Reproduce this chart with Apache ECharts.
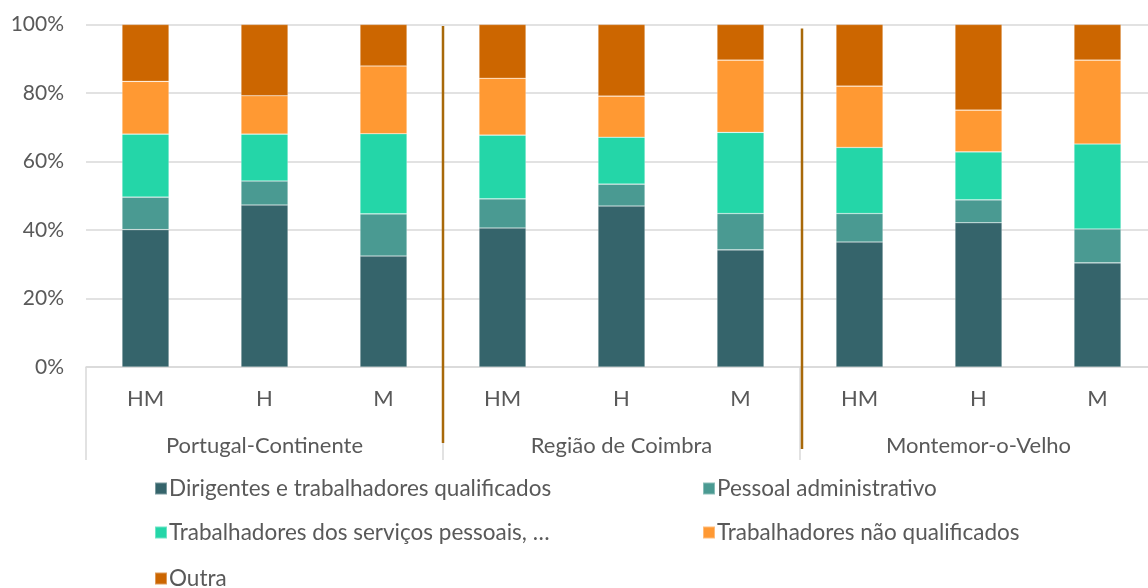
<!DOCTYPE html>
<html>
<head>
<meta charset="utf-8">
<script src="https://cdn.jsdelivr.net/npm/echarts@6/dist/echarts.min.js"></script>
<style>
  html, body { margin: 0; padding: 0; background: #fff; }
  #chart { width: 1148px; height: 588px; }
</style>
</head>
<body>
<div id="chart"></div>
<script>
// Occupational structure by sex (HM = total, H = men, M = women), shares in %
const sexCategories = ['HM', 'H', 'M', 'HM', 'H', 'M', 'HM', 'H', 'M'];
const regions = ['Portugal-Continente', 'Região de Coimbra', 'Montemor-o-Velho'];
const yTicks = [0, 20, 40, 60, 80, 100];

const dirigentes = [40.1, 47.3, 32.4, 40.6, 47.0, 34.2, 36.5, 42.1, 30.4];
const pessoalAdministrativo = [9.5, 7.0, 12.3, 8.5, 6.4, 10.6, 8.3, 6.7, 9.9];
const servicosPessoais = [18.4, 13.7, 23.4, 18.6, 13.7, 23.7, 19.3, 14.0, 24.8];
const naoQualificados = [15.4, 11.2, 19.8, 16.6, 12.0, 21.1, 17.9, 12.2, 24.5];
const outra = [16.6, 20.8, 12.1, 15.7, 20.9, 10.4, 18.0, 25.0, 10.4];

const seriesNames = [
  'Dirigentes e trabalhadores qualificados',
  'Pessoal administrativo',
  'Trabalhadores dos serviços pessoais, …',
  'Trabalhadores não qualificados',
  'Outra'
];
const seriesData = [dirigentes, pessoalAdministrativo, servicosPessoais, naoQualificados, outra];
const colors = ['#35646B', '#4A9A92', '#24D6A8', '#FF9933', '#CC6600'];

const FONT = 'Lato, "Open Sans", sans-serif';
const TEXT = '#595959';
const GRID_LINE = '#D9D9D9';

// Legend laid out in two columns; one legend block per entry
const legendSlots = [
  { left: 149, top: 472 },
  { left: 697, top: 472 },
  { left: 149, top: 516 },
  { left: 697, top: 516 },
  { left: 149, top: 562 }
];

const chart = echarts.init(document.getElementById('chart'), null, { renderer: 'canvas' });

const option = {
  animation: false,
  textStyle: { fontFamily: FONT },
  grid: { left: 86, top: 24.5, right: -9, bottom: 221, containLabel: false, outerBoundsMode: 'none' },
  xAxis: [
    {
      type: 'category',
      data: sexCategories,
      position: 'bottom',
      axisLine: { lineStyle: { color: GRID_LINE, width: 1.5 } },
      axisTick: { show: false },
      axisLabel: { color: TEXT, fontSize: 22, fontFamily: FONT, margin: 21 }
    },
    {
      type: 'category',
      data: regions,
      position: 'bottom',
      axisLine: { show: false },
      axisTick: { show: true, length: 93, lineStyle: { color: GRID_LINE, width: 1.5 } },
      axisLabel: { color: TEXT, fontSize: 22, fontFamily: FONT, margin: 68 }
    }
  ],
  yAxis: {
    type: 'value',
    min: yTicks[0],
    max: yTicks[yTicks.length - 1],
    interval: 20,
    axisLine: { show: false },
    axisTick: { show: false },
    splitLine: { lineStyle: { color: GRID_LINE, width: 1.5 } },
    axisLabel: { color: TEXT, fontSize: 21, fontFamily: FONT, margin: 22, formatter: '{value}%' }
  },
  legend: seriesNames.map((name, i) => ({
    left: legendSlots[i].left,
    top: legendSlots[i].top,
    itemWidth: 12,
    itemHeight: 12,
    icon: 'rect',
    selectedMode: false,
    textStyle: { color: TEXT, fontSize: 22.5, fontFamily: FONT, lineHeight: 23, padding: [0, 0, 0, -3] },
    data: [name]
  })),
  series: seriesNames.map((name, i) => ({
    name,
    type: 'bar',
    stack: 'total',
    xAxisIndex: 0,
    barWidth: 47,
    itemStyle: { color: colors[i], borderColor: 'rgba(255,255,255,0.35)', borderWidth: 0.6 },
    data: seriesData[i]
  }))
};

chart.setOption(option);

// Brown dividers between the three regions, placed halfway between neighbouring categories
function regionDividers() {
  const yTop = chart.convertToPixel({ yAxisIndex: 0 }, yTicks[yTicks.length - 1]);
  const yZero = chart.convertToPixel({ yAxisIndex: 0 }, yTicks[0]);
  const bottoms = [yZero + 76, yZero + 82];
  const tops = [yTop + 1.5, yTop + 4];
  const items = [];
  [3, 6].forEach((idx, k) => {
    const xa = chart.convertToPixel({ xAxisIndex: 0 }, idx - 1);
    const xb = chart.convertToPixel({ xAxisIndex: 0 }, idx);
    const x = (xa + xb) / 2 + k * 2;
    items.push({
      type: 'line',
      z: 10,
      shape: { x1: x, y1: tops[k], x2: x, y2: bottoms[k] },
      style: { stroke: '#A8690A', lineWidth: 2.5 }
    });
  });
  return items;
}

chart.setOption({ graphic: regionDividers() });
</script>
</body>
</html>
